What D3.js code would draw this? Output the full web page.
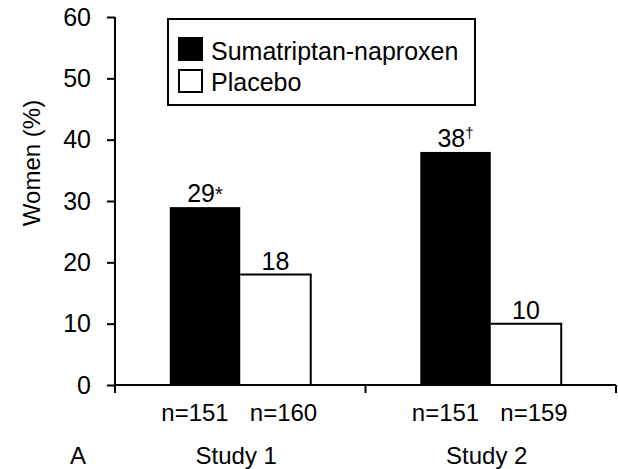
<!DOCTYPE html>
<html>
<head>
<meta charset="utf-8">
<script src="https://cdn.jsdelivr.net/npm/d3@7"></script>
<style>
  body { margin: 0; background: #fff; }
  svg { font-family: "Liberation Sans", Arial, sans-serif; }
</style>
</head>
<body>
<script>
const studies = ['Study 1', 'Study 2'];
const series = ['Sumatriptan-naproxen', 'Placebo'];
const values = [[29, 18], [38, 10]];
const marks = [['*', ''], ['\u2020', '']];
const counts = [['n=151', 'n=160'], ['n=151', 'n=159']];
const yTicks = [0, 10, 20, 30, 40, 50, 60];

const width = 618;
const height = 469;

const svg = d3.select('body').append('svg')
  .attr('width', width)
  .attr('height', height);

function label(parent, x, y, txt, size, anchor) {
  return parent.append('text')
    .attr('x', x)
    .attr('y', y)
    .attr('text-anchor', anchor || 'middle')
    .attr('font-size', size)
    .text(txt);
}

const x = d3.scaleBand().domain(studies).range([115, 616]).padding(0);
const xs = d3.scaleBand().domain(series).range([0, x.bandwidth()])
  .paddingInner(0).paddingOuter(0.777);
const y = d3.scaleLinear().domain([0, 60]).range([385, 17]);

const fill = { 'Sumatriptan-naproxen': '#000', 'Placebo': '#fff' };

// bars
const group = svg.append('g').selectAll('g')
  .data(studies)
  .enter().append('g')
    .attr('transform', d => `translate(${x(d)},0)`);

group.each(function (study, i) {
  const g = d3.select(this);
  series.forEach((s, j) => {
    const v = values[i][j];
    const x0 = xs(s);
    const x1 = x0 + xs.bandwidth();
    const cx = (x0 + x1) / 2;
    if (j === 0) {
      g.append('rect')
        .attr('x', x0)
        .attr('y', y(v))
        .attr('width', xs.bandwidth())
        .attr('height', y(0) - y(v))
        .attr('fill', fill[s]);
    } else {
      g.append('path')
        .attr('d', `M${x0},${y(v)}H${x1}V${y(0)}`)
        .attr('fill', 'none')
        .attr('stroke', '#000')
        .attr('stroke-width', 2);
    }
    const t = label(g, cx, y(v) - 5, v, 25);
    if (marks[i][j]) {
      t.append('tspan')
        .attr('font-size', marks[i][j] === '*' ? 20 : 15)
        .attr('dy', marks[i][j] === '*' ? -1 : -9)
        .text(marks[i][j]);
    }
    label(g, cx + (j === 0 ? -10 : 8), 421, counts[i][j], 24);
  });
  label(g, x.bandwidth() / 2 - 4, 464, study, 24);
});

// y axis
const yAxis = svg.append('g')
  .attr('transform', 'translate(115,0)')
  .call(d3.axisLeft(y).tickValues(yTicks).tickSize(8).tickSizeOuter(0));
yAxis.select('.domain').attr('stroke-width', 2).attr('d', `M0,${y(60)}V${y(0) + 8}`);
yAxis.selectAll('line').attr('stroke-width', 2);
yAxis.selectAll('text')
  .attr('x', -24)
  .attr('font-size', 25).attr('fill', '#000')
  .attr('font-family', '"Liberation Sans", Arial, sans-serif');

// x axis
const xAxis = svg.append('g')
  .attr('transform', `translate(0,${y(0)})`);
xAxis.append('line')
  .attr('x1', 115).attr('x2', 616)
  .attr('stroke', '#000').attr('stroke-width', 2);
xAxis.selectAll('.tick')
  .data(studies.map(s => x(s) + x.bandwidth()))
  .enter().append('line')
    .attr('class', 'tick')
    .attr('x1', d => d).attr('x2', d => d)
    .attr('y1', 0).attr('y2', 8)
    .attr('stroke', '#000').attr('stroke-width', 2);

svg.append('text')
  .attr('transform', 'translate(40,163) rotate(-90)')
  .attr('text-anchor', 'middle')
  .attr('font-size', 24)
  .text('Women (%)');

label(svg, 70, 464, 'A', 24, 'start');

// legend
const legend = svg.append('g');
legend.append('rect')
  .attr('x', 168).attr('y', 19)
  .attr('width', 307).attr('height', 86)
  .attr('fill', '#fff').attr('stroke', '#000').attr('stroke-width', 2);
series.forEach((s, j) => {
  legend.append('rect')
    .attr('x', 179).attr('y', 38 + j * 32)
    .attr('width', 23).attr('height', 22)
    .attr('fill', fill[s]).attr('stroke', '#000').attr('stroke-width', 2);
  label(legend, 211, 60 + j * 31, s, 25, 'start');
});
</script>
</body>
</html>
